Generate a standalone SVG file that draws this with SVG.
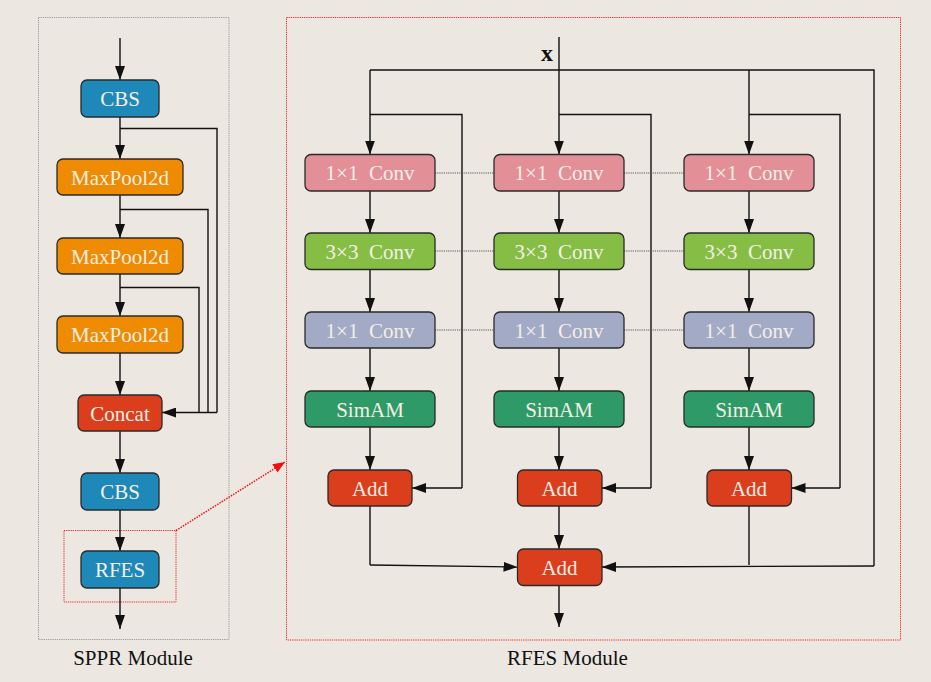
<svg xmlns="http://www.w3.org/2000/svg" width="931" height="682" viewBox="0 0 931 682">
<defs>
<marker id="ahb" viewBox="0 0 10 10" refX="10" refY="5" markerWidth="14" markerHeight="10" markerUnits="userSpaceOnUse" orient="auto" preserveAspectRatio="none">
<path d="M0,0 L10,5 L0,10 z" fill="#111"/>
</marker>
<marker id="ahr" viewBox="0 0 10 10" refX="10" refY="5" markerWidth="12" markerHeight="10" markerUnits="userSpaceOnUse" orient="auto" preserveAspectRatio="none">
<path d="M0,0 L10,5 L0,10 z" fill="#f01010"/>
</marker>
<style>
.n rect{stroke:#2a2a2a;stroke-width:1.3}
.n text{font-family:"Liberation Serif","Times New Roman",serif;font-size:21px;fill:#F4EEE6;text-anchor:middle;white-space:pre}
.blue{fill:#1E88B9}
.orange{fill:#EE8B00}
.red{fill:#DB3E1C}
.pink{fill:#E38F97}
.lime{fill:#86BE45}
.gray{fill:#A3AAC6}
.sim{fill:#2E9A67}
.e{fill:none;stroke:#111;stroke-width:1.4}
.a{marker-end:url(#ahb)}
.d{fill:none;stroke:#555;stroke-width:1;stroke-dasharray:1.2 1}
.lbl{font-family:"Liberation Serif","Times New Roman",serif;font-size:21px;fill:#111;text-anchor:middle}
</style>
</defs>
<rect x="0" y="0" width="931" height="682" fill="#ECE8E1"/>

<!-- module frames -->
<g id="frames">
<rect x="38.5" y="17.5" width="190.5" height="622" fill="none" stroke="#999" stroke-width="1" stroke-dasharray="1.2 1"/>
<rect x="286.5" y="17.5" width="614" height="622.5" fill="none" stroke="#f02020" stroke-width="1" stroke-dasharray="1.2 1"/>
<rect x="64" y="530.5" width="112" height="71.5" fill="none" stroke="#f02020" stroke-width="1" stroke-dasharray="1.2 1"/>
<text class="lbl" x="133" y="665">SPPR Module</text>
<text class="lbl" x="567.5" y="665">RFES Module</text>
<text x="547" y="61" font-family="Liberation Serif, Times New Roman, serif" font-size="24" font-weight="bold" fill="#111" text-anchor="middle">x</text>
</g>

<!-- connectors -->
<g id="connectors">
<!-- SPPR main chain -->
<path class="e a" d="M120,38 V80"/>
<path class="e a" d="M120,117 V159"/>
<path class="e a" d="M120,195 V238"/>
<path class="e a" d="M120,274 V316"/>
<path class="e a" d="M120,353 V395"/>
<path class="e a" d="M120,431 V473"/>
<path class="e a" d="M120,510 V551"/>
<path class="e a" d="M120,588 V629"/>
<!-- SPPR skips -->
<path class="e" d="M120,128.5 H217 V412.5"/>
<path class="e" d="M120,209.5 H208 V412.5"/>
<path class="e" d="M120,287.5 H199 V412.5"/>
<path class="e a" d="M217,412.5 H162"/>
<!-- zoom arrow -->
<path d="M176,530.5 L285,462" fill="none" stroke="#f01010" stroke-width="1.5" stroke-dasharray="1.5 1.2" marker-end="url(#ahr)"/>

<!-- RFES inputs -->
<path class="e a" d="M559,37 V154.5"/>
<path class="e" d="M370,70 H874 V566"/>
<path class="e a" d="M370,70 V154.5"/>
<path class="e a" d="M749,70 V154.5"/>
<!-- skip lines -->
<path class="e" d="M370,114.5 H462 V488"/>
<path class="e a" d="M462,488 H412"/>
<path class="e" d="M559,114.5 H651 V488"/>
<path class="e a" d="M651,488 H602"/>
<path class="e" d="M749,114.5 H840 V488"/>
<path class="e a" d="M840,488 H791.5"/>
<!-- column chains -->
<path class="e a" d="M370,191 V233"/>
<path class="e a" d="M370,269.5 V312"/>
<path class="e a" d="M370,348 V391"/>
<path class="e a" d="M370,427 V470"/>
<path class="e a" d="M559,191 V233"/>
<path class="e a" d="M559,269.5 V312"/>
<path class="e a" d="M559,348 V391"/>
<path class="e a" d="M559,427 V470"/>
<path class="e a" d="M749,191 V233"/>
<path class="e a" d="M749,269.5 V312"/>
<path class="e a" d="M749,348 V391"/>
<path class="e a" d="M749,427 V470"/>
<!-- to final add -->
<path class="e a" d="M559,506 V549"/>
<path class="e" d="M370,506 V565"/>
<path class="e a" d="M370,565 L517.5,567"/>
<path class="e" d="M749,506 V565"/>
<path class="e a" d="M874,566 L602,567"/>
<path class="e a" d="M559,585.5 V627"/>
<!-- dotted row links -->
<path class="d" d="M435,173 H494 M624,173 H684"/>
<path class="d" d="M435,251 H494 M624,251 H684"/>
<path class="d" d="M435,330 H494 M624,330 H684"/>
</g>

<!-- SPPR nodes -->
<g id="sppr-cbs1" class="n"><rect class="blue" x="81" y="80" width="78" height="37" rx="6"/><text x="120" y="106">CBS</text></g>
<g id="sppr-mp1" class="n"><rect class="orange" x="57" y="159" width="126" height="36" rx="6"/><text x="120" y="184.5">MaxPool2d</text></g>
<g id="sppr-mp2" class="n"><rect class="orange" x="57" y="238" width="126" height="36" rx="6"/><text x="120" y="263.5">MaxPool2d</text></g>
<g id="sppr-mp3" class="n"><rect class="orange" x="57" y="316" width="126" height="37" rx="6"/><text x="120" y="342">MaxPool2d</text></g>
<g id="sppr-concat" class="n"><rect class="red" x="78" y="395" width="84" height="36" rx="6"/><text x="120" y="420.5">Concat</text></g>
<g id="sppr-cbs2" class="n"><rect class="blue" x="81" y="473" width="78" height="37" rx="6"/><text x="120" y="499">CBS</text></g>
<g id="sppr-rfes" class="n"><rect class="blue" x="81" y="551" width="78" height="37" rx="6"/><text x="120" y="577">RFES</text></g>

<!-- RFES nodes: column 1 -->
<g id="c1-conv1" class="n"><rect class="pink" x="305" y="154.5" width="130" height="36.5" rx="6"/><text x="370" y="180">1×1  Conv</text></g>
<g id="c1-conv3" class="n"><rect class="lime" x="305" y="233" width="130" height="36.5" rx="6"/><text x="370" y="258.5">3×3  Conv</text></g>
<g id="c1-conv1b" class="n"><rect class="gray" x="305" y="312" width="130" height="36" rx="6"/><text x="370" y="337.5">1×1  Conv</text></g>
<g id="c1-simam" class="n"><rect class="sim" x="305" y="391" width="130" height="36" rx="6"/><text x="370" y="416.5">SimAM</text></g>
<g id="c1-add" class="n"><rect class="red" x="328" y="470" width="84" height="36" rx="6"/><text x="370" y="495.5">Add</text></g>

<!-- column 2 -->
<g id="c2-conv1" class="n"><rect class="pink" x="494" y="154.5" width="130" height="36.5" rx="6"/><text x="559" y="180">1×1  Conv</text></g>
<g id="c2-conv3" class="n"><rect class="lime" x="494" y="233" width="130" height="36.5" rx="6"/><text x="559" y="258.5">3×3  Conv</text></g>
<g id="c2-conv1b" class="n"><rect class="gray" x="494" y="312" width="130" height="36" rx="6"/><text x="559" y="337.5">1×1  Conv</text></g>
<g id="c2-simam" class="n"><rect class="sim" x="494" y="391" width="130" height="36" rx="6"/><text x="559" y="416.5">SimAM</text></g>
<g id="c2-add" class="n"><rect class="red" x="517.5" y="470" width="84.5" height="36" rx="6"/><text x="559.5" y="495.5">Add</text></g>

<!-- column 3 -->
<g id="c3-conv1" class="n"><rect class="pink" x="684" y="154.5" width="130" height="36.5" rx="6"/><text x="749" y="180">1×1  Conv</text></g>
<g id="c3-conv3" class="n"><rect class="lime" x="684" y="233" width="130" height="36.5" rx="6"/><text x="749" y="258.5">3×3  Conv</text></g>
<g id="c3-conv1b" class="n"><rect class="gray" x="684" y="312" width="130" height="36" rx="6"/><text x="749" y="337.5">1×1  Conv</text></g>
<g id="c3-simam" class="n"><rect class="sim" x="684" y="391" width="130" height="36" rx="6"/><text x="749" y="416.5">SimAM</text></g>
<g id="c3-add" class="n"><rect class="red" x="707" y="470" width="84.5" height="36" rx="6"/><text x="749" y="495.5">Add</text></g>

<!-- final add -->
<g id="final-add" class="n"><rect class="red" x="517.5" y="549" width="84.5" height="36.5" rx="6"/><text x="559.5" y="575">Add</text></g>
</svg>
